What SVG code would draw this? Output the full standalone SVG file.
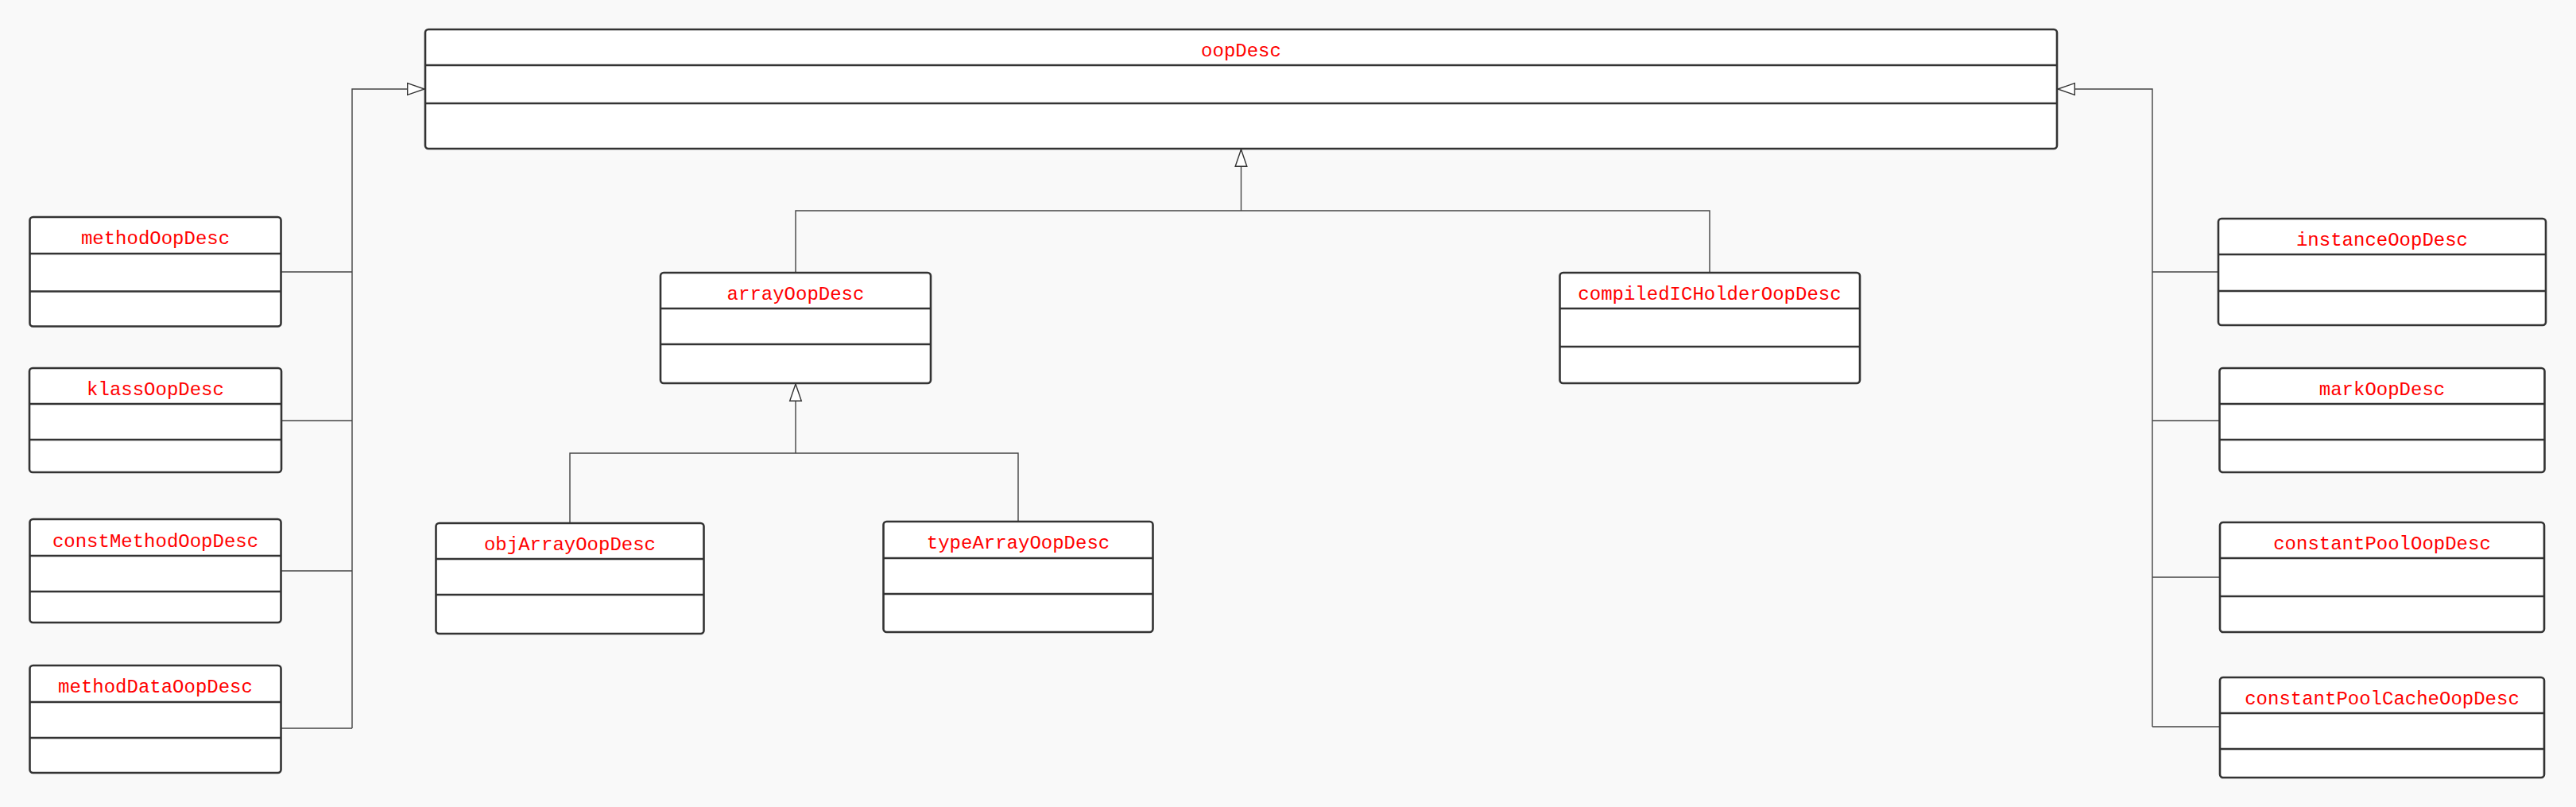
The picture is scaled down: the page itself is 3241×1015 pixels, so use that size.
<svg xmlns="http://www.w3.org/2000/svg" width="3241" height="1015" viewBox="0 0 3241 1015">
<style>
.box{fill:#ffffff;stroke:#333333;stroke-width:2.6}
.div{stroke:#333333;stroke-width:2.6;fill:none}
.lbl{font-family:"Liberation Mono","Courier New",monospace;font-size:24px;fill:#ff0000;text-anchor:middle}
.edge{fill:none;stroke:#444444;stroke-width:1.4}
</style>
<defs>
<marker id="gen" viewBox="0 0 22 16" refX="22" refY="8" markerWidth="22" markerHeight="16" markerUnits="userSpaceOnUse" orient="auto" overflow="visible">
<path d="M0.7,0.7 L22,8 L0.7,15.3 Z" fill="#ffffff" stroke="#333333" stroke-width="1.4"/>
</marker>
</defs>
<rect width="3241" height="1015" fill="#f9f9f9"/>

<g id="connectors">
<path class="edge" d="M443,916 V112 H534" marker-end="url(#gen)"/>
<path class="edge" d="M354,342 H443 M354,529 H443 M354,718 H443 M354,916 H443"/>
<path class="edge" d="M2708,914 V112 H2589" marker-end="url(#gen)"/>
<path class="edge" d="M2791,342 H2708 M2793,529 H2708 M2793,726 H2708 M2793,914 H2708"/>
<path class="edge" d="M1561.5,265 V188" marker-end="url(#gen)"/>
<path class="edge" d="M1001,343 V265 H2151 V343"/>
<path class="edge" d="M1001,570 V483" marker-end="url(#gen)"/>
<path class="edge" d="M717,658 V570 H1281 V656"/>
</g>

<g id="oopDesc">
<rect class="box" x="535" y="37" width="2053" height="150" rx="4"/>
<path class="div" d="M535,82 H2588 M535,130 H2588"/>
<text class="lbl" x="1561.5" y="71">oopDesc</text>
</g>

<g id="methodOopDesc">
<rect class="box" x="37.5" y="273" width="316" height="137.5" rx="4"/>
<path class="div" d="M37.5,319 H353.5 M37.5,366.5 H353.5"/>
<text class="lbl" x="195.5" y="307">methodOopDesc</text>
</g>

<g id="klassOopDesc">
<rect class="box" x="37" y="463" width="317" height="131" rx="4"/>
<path class="div" d="M37,508 H354 M37,553 H354"/>
<text class="lbl" x="195.5" y="497">klassOopDesc</text>
</g>

<g id="constMethodOopDesc">
<rect class="box" x="37.5" y="653" width="316" height="130" rx="4"/>
<path class="div" d="M37.5,699 H353.5 M37.5,744 H353.5"/>
<text class="lbl" x="195.5" y="688">constMethodOopDesc</text>
</g>

<g id="methodDataOopDesc">
<rect class="box" x="37.5" y="837" width="316" height="135" rx="4"/>
<path class="div" d="M37.5,883 H353.5 M37.5,928 H353.5"/>
<text class="lbl" x="195.5" y="871">methodDataOopDesc</text>
</g>

<g id="instanceOopDesc">
<rect class="box" x="2791" y="275" width="412" height="134" rx="4"/>
<path class="div" d="M2791,320 H3203 M2791,366 H3203"/>
<text class="lbl" x="2997" y="309">instanceOopDesc</text>
</g>

<g id="markOopDesc">
<rect class="box" x="2792.5" y="463" width="409" height="131" rx="4"/>
<path class="div" d="M2792.5,508 H3201.5 M2792.5,553 H3201.5"/>
<text class="lbl" x="2997" y="497">markOopDesc</text>
</g>

<g id="constantPoolOopDesc">
<rect class="box" x="2793" y="657" width="408" height="138" rx="4"/>
<path class="div" d="M2793,702 H3201 M2793,750 H3201"/>
<text class="lbl" x="2997" y="691">constantPoolOopDesc</text>
</g>

<g id="constantPoolCacheOopDesc">
<rect class="box" x="2793" y="852" width="408" height="126" rx="4"/>
<path class="div" d="M2793,897 H3201 M2793,942 H3201"/>
<text class="lbl" x="2997" y="886">constantPoolCacheOopDesc</text>
</g>

<g id="arrayOopDesc">
<rect class="box" x="831" y="343" width="340" height="139" rx="4"/>
<path class="div" d="M831,388 H1171 M831,433 H1171"/>
<text class="lbl" x="1001" y="377">arrayOopDesc</text>
</g>

<g id="compiledICHolderOopDesc">
<rect class="box" x="1962.5" y="343" width="377.5" height="139" rx="4"/>
<path class="div" d="M1962.5,388 H2340 M1962.5,436 H2340"/>
<text class="lbl" x="2151" y="377">compiledICHolderOopDesc</text>
</g>

<g id="objArrayOopDesc">
<rect class="box" x="548.5" y="658" width="337" height="139" rx="4"/>
<path class="div" d="M548.5,703 H885.5 M548.5,748 H885.5"/>
<text class="lbl" x="717" y="692">objArrayOopDesc</text>
</g>

<g id="typeArrayOopDesc">
<rect class="box" x="1111.5" y="656" width="339" height="139" rx="4"/>
<path class="div" d="M1111.5,702 H1450.5 M1111.5,747 H1450.5"/>
<text class="lbl" x="1281" y="690">typeArrayOopDesc</text>
</g>
</svg>
